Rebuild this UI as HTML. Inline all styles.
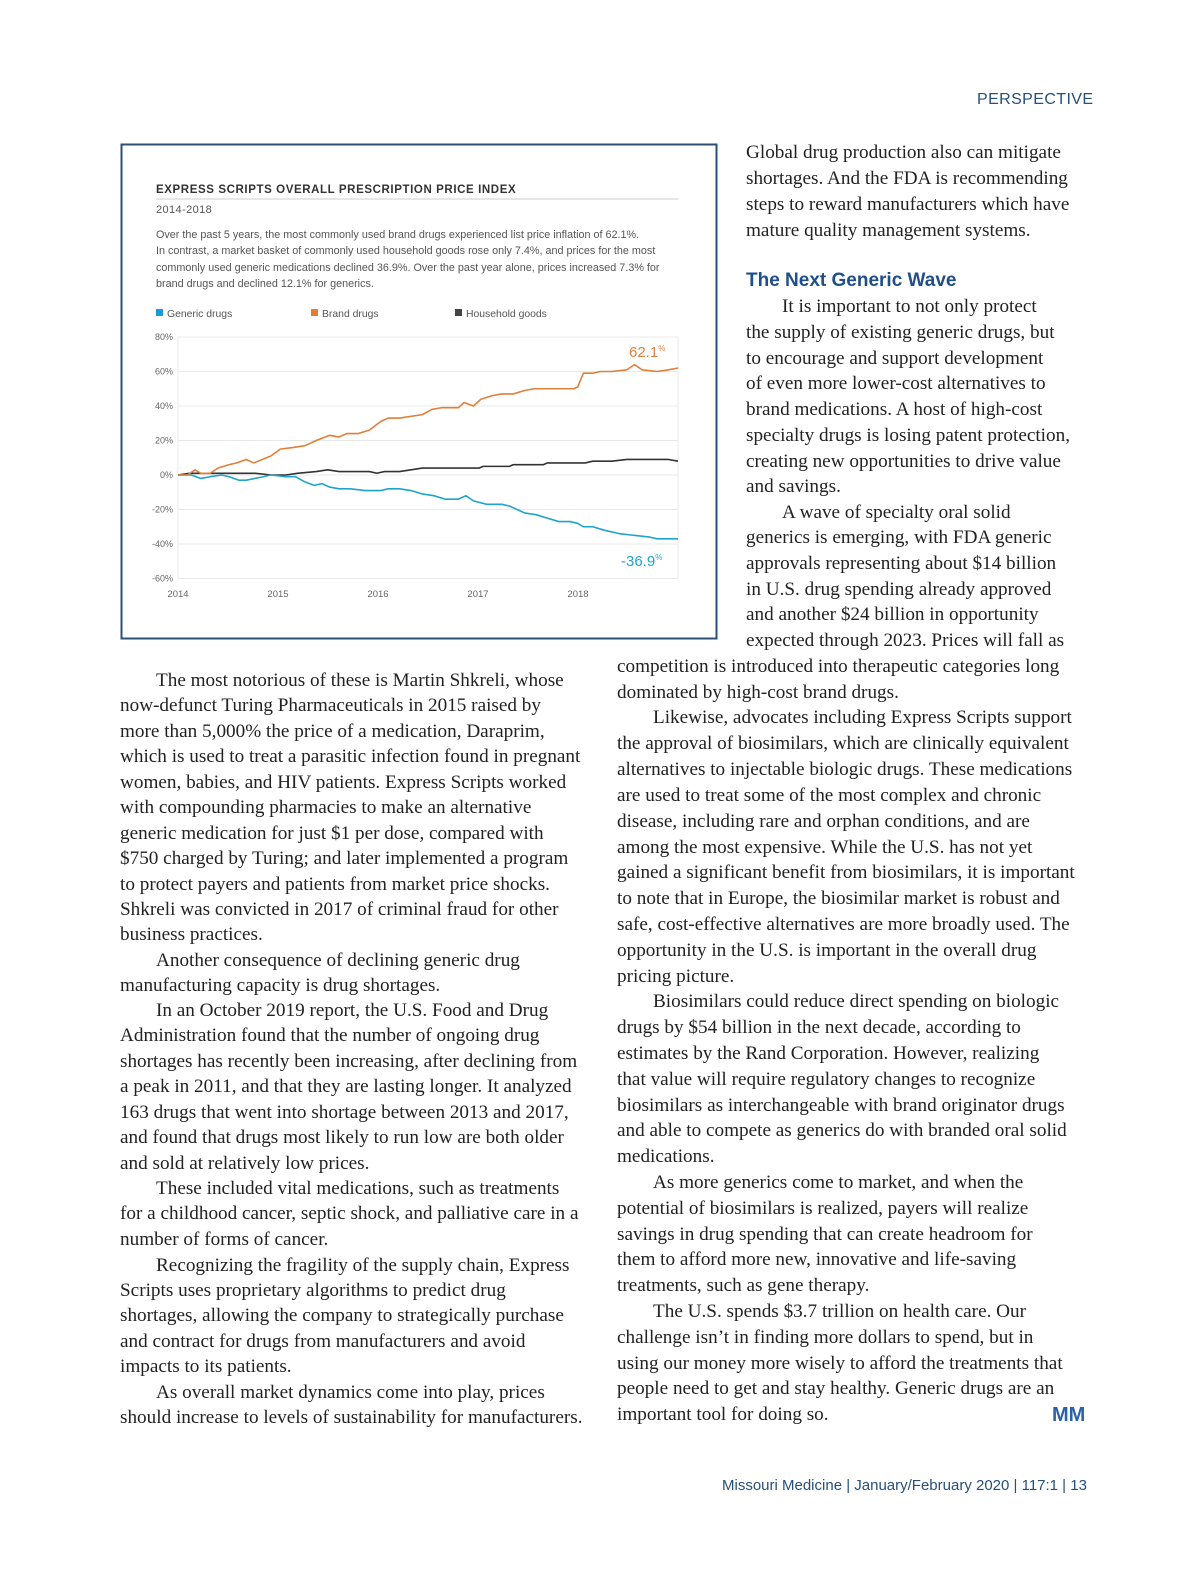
<!DOCTYPE html>
<html><head><meta charset="utf-8">
<style>
html,body{margin:0;padding:0;background:#fff;overflow:hidden;}
body{width:1200px;height:1582px;position:relative;}
.l{position:absolute;white-space:nowrap;font-family:"Liberation Serif",serif;font-size:19.2px;line-height:24px;color:#222;}
.s{font-family:"Liberation Sans",sans-serif;}
</style></head><body>
<div class="s" style="position:absolute;left:977px;top:91px;font-size:16px;letter-spacing:0.4px;color:#264f7c;">PERSPECTIVE</div>

<svg style="position:absolute;left:0;top:0" width="1200" height="660">
<rect x="121.5" y="144.5" width="595" height="494" fill="#fff" stroke="#2d4f74" stroke-width="2"/>
<text x="156" y="193" font-family="Liberation Sans,sans-serif" font-size="11.5" font-weight="bold" fill="#333" letter-spacing="0.6">EXPRESS SCRIPTS OVERALL PRESCRIPTION PRICE INDEX</text>
<line x1="156" y1="199" x2="678" y2="199" stroke="#ccc"/>
<text x="156" y="213" font-family="Liberation Sans,sans-serif" font-size="11" fill="#555" letter-spacing="0.4">2014-2018</text>
<g font-family="Liberation Sans,sans-serif" font-size="10.8" fill="#555">
<text x="156" y="238">Over the past 5 years, the most commonly used brand drugs experienced list price inflation of 62.1%.</text>
<text x="156" y="254">In contrast, a market basket of commonly used household goods rose only 7.4%, and prices for the most</text>
<text x="156" y="271">commonly used generic medications declined 36.9%. Over the past year alone, prices increased 7.3% for</text>
<text x="156" y="287">brand drugs and declined 12.1% for generics.</text>
</g>
<g font-family="Liberation Sans,sans-serif" font-size="10.4" fill="#555">
<rect x="156" y="309" width="7" height="7" fill="#1a9ad6"/><text x="167" y="317">Generic drugs</text>
<rect x="311" y="309" width="7" height="7" fill="#e07f3a"/><text x="322" y="317">Brand drugs</text>
<rect x="455" y="309" width="7" height="7" fill="#444"/><text x="466" y="317">Household goods</text>
</g>
<g stroke="#e8e8e8" stroke-width="1">
<line x1="178" y1="337" x2="678" y2="337"/><line x1="178" y1="371.5" x2="678" y2="371.5"/><line x1="178" y1="406" x2="678" y2="406"/><line x1="178" y1="440.5" x2="678" y2="440.5"/><line x1="178" y1="475" x2="678" y2="475"/><line x1="178" y1="509.5" x2="678" y2="509.5"/><line x1="178" y1="544" x2="678" y2="544"/><line x1="178" y1="578.5" x2="678" y2="578.5"/>
<line x1="178" y1="337" x2="178" y2="578"/><line x1="678" y1="337" x2="678" y2="578"/>
</g>
<g font-family="Liberation Sans,sans-serif" font-size="9" fill="#666" text-anchor="end">
<text x="173" y="340">80%</text><text x="173" y="374.5">60%</text><text x="173" y="409">40%</text><text x="173" y="443.5">20%</text><text x="173" y="478">0%</text><text x="173" y="512.5">-20%</text><text x="173" y="547">-40%</text><text x="173" y="581.5">-60%</text>
</g>
<g font-family="Liberation Sans,sans-serif" font-size="9.5" fill="#666" text-anchor="middle">
<text x="178" y="597">2014</text><text x="278" y="597">2015</text><text x="378" y="597">2016</text><text x="478" y="597">2017</text><text x="578" y="597">2018</text>
</g>
<g transform="translate(119.3,475) scale(0.3788,-1.725)" fill="none" stroke-width="1.6" stroke-linejoin="round">
<polyline vector-effect="non-scaling-stroke" stroke="#333" points="155,0 185,1 360,1 400,0 440,0 470,1 520,2 550,3 580,2 660,2 680,1 700,2 740,2 770,3 800,4 950,4 960,5 1030,5 1040,6 1120,6 1130,7 1230,7 1250,8 1300,8 1340,9 1450,9 1475,8"/>
<polyline vector-effect="non-scaling-stroke" stroke="#1fa3cc" points="155,0 190,0 215,-2 240,-1 270,0 290,-1 315,-3 335,-3 380,-1 400,0 440,-1 465,-1 490,-4 515,-6 535,-5 555,-7 580,-8 610,-8 650,-9 690,-9 710,-8 740,-8 770,-9 800,-11 830,-12 860,-14 895,-14 915,-12 935,-15 970,-17 1010,-17 1030,-18 1070,-22 1100,-23 1130,-25 1160,-27 1190,-27 1210,-28 1225,-30 1250,-30 1280,-32 1320,-34 1360,-35 1400,-36 1420,-37 1475,-37"/>
<polyline vector-effect="non-scaling-stroke" stroke="#e07f3a" points="155,0 180,0 200,3 215,1 240,1 260,4 290,6 310,7 335,9 355,7 400,11 425,15 460,16 490,17 520,20 555,23 580,22 600,24 630,24 660,26 690,31 710,33 740,33 800,35 825,38 850,39 895,39 910,42 935,40 955,44 985,46 1010,47 1040,47 1070,49 1095,50 1200,50 1210,51 1225,59 1250,59 1270,60 1300,60 1340,61 1360,64 1380,61 1420,60 1450,61 1475,62"/>
</g>
<text x="629" y="357" font-family="Liberation Sans,sans-serif" font-size="15" fill="#e07f3a">62.1<tspan font-size="8" dy="-6">%</tspan></text>
<text x="621" y="566" font-family="Liberation Sans,sans-serif" font-size="15" fill="#1fa3cc">-36.9<tspan font-size="8" dy="-6">%</tspan></text>
</svg>

<!-- upper right -->
<div class="l" style="left:746px;top:141px">Global drug production also can mitigate</div>
<div class="l" style="left:746px;top:167px">shortages. And the FDA is recommending</div>
<div class="l" style="left:746px;top:193px">steps to reward manufacturers which have</div>
<div class="l" style="left:746px;top:219px">mature quality management systems.</div>
<div class="l s" style="left:746px;top:269px;font-size:19px;font-weight:bold;color:#1f4e8a">The Next Generic Wave</div>
<div class="l" style="left:782px;top:295px">It is important to not only protect</div>
<div class="l" style="left:746px;top:321px">the supply of existing generic drugs, but</div>
<div class="l" style="left:746px;top:347px">to encourage and support development</div>
<div class="l" style="left:746px;top:372px">of even more lower-cost alternatives to</div>
<div class="l" style="left:746px;top:398px">brand medications. A host of high-cost</div>
<div class="l" style="left:746px;top:424px">specialty drugs is losing patent protection,</div>
<div class="l" style="left:746px;top:450px">creating new opportunities to drive value</div>
<div class="l" style="left:746px;top:475px">and savings.</div>
<div class="l" style="left:782px;top:501px">A wave of specialty oral solid</div>
<div class="l" style="left:746px;top:526px">generics is emerging, with FDA generic</div>
<div class="l" style="left:746px;top:552px">approvals representing about $14 billion</div>
<div class="l" style="left:746px;top:578px">in U.S. drug spending already approved</div>
<div class="l" style="left:746px;top:603px">and another $24 billion in opportunity</div>
<div class="l" style="left:746px;top:629px">expected through 2023. Prices will fall as</div>

<!-- left column -->
<div class="l" style="left:156px;top:669px">The most notorious of these is Martin Shkreli, whose</div>
<div class="l" style="left:120px;top:694px">now-defunct Turing Pharmaceuticals in 2015 raised by</div>
<div class="l" style="left:120px;top:720px">more than 5,000% the price of a medication, Daraprim,</div>
<div class="l" style="left:120px;top:745px">which is used to treat a parasitic infection found in pregnant</div>
<div class="l" style="left:120px;top:771px">women, babies, and HIV patients. Express Scripts worked</div>
<div class="l" style="left:120px;top:796px">with compounding pharmacies to make an alternative</div>
<div class="l" style="left:120px;top:822px">generic medication for just $1 per dose, compared with</div>
<div class="l" style="left:120px;top:847px">$750 charged by Turing; and later implemented a program</div>
<div class="l" style="left:120px;top:873px">to protect payers and patients from market price shocks.</div>
<div class="l" style="left:120px;top:898px">Shkreli was convicted in 2017 of criminal fraud for other</div>
<div class="l" style="left:120px;top:923px">business practices.</div>
<div class="l" style="left:156px;top:949px">Another consequence of declining generic drug</div>
<div class="l" style="left:120px;top:974px">manufacturing capacity is drug shortages.</div>
<div class="l" style="left:156px;top:999px">In an October 2019 report, the U.S. Food and Drug</div>
<div class="l" style="left:120px;top:1024px">Administration found that the number of ongoing drug</div>
<div class="l" style="left:120px;top:1050px">shortages has recently been increasing, after declining from</div>
<div class="l" style="left:120px;top:1075px">a peak in 2011, and that they are lasting longer. It analyzed</div>
<div class="l" style="left:120px;top:1101px">163 drugs that went into shortage between 2013 and 2017,</div>
<div class="l" style="left:120px;top:1126px">and found that drugs most likely to run low are both older</div>
<div class="l" style="left:120px;top:1152px">and sold at relatively low prices.</div>
<div class="l" style="left:156px;top:1177px">These included vital medications, such as treatments</div>
<div class="l" style="left:120px;top:1202px">for a childhood cancer, septic shock, and palliative care in a</div>
<div class="l" style="left:120px;top:1228px">number of forms of cancer.</div>
<div class="l" style="left:156px;top:1254px">Recognizing the fragility of the supply chain, Express</div>
<div class="l" style="left:120px;top:1279px">Scripts uses proprietary algorithms to predict drug</div>
<div class="l" style="left:120px;top:1304px">shortages, allowing the company to strategically purchase</div>
<div class="l" style="left:120px;top:1330px">and contract for drugs from manufacturers and avoid</div>
<div class="l" style="left:120px;top:1355px">impacts to its patients.</div>
<div class="l" style="left:156px;top:1381px">As overall market dynamics come into play, prices</div>
<div class="l" style="left:120px;top:1406px">should increase to levels of sustainability for manufacturers.</div>

<!-- right column -->
<div class="l" style="left:617px;top:655px">competition is introduced into therapeutic categories long</div>
<div class="l" style="left:617px;top:681px">dominated by high-cost brand drugs.</div>
<div class="l" style="left:653px;top:706px">Likewise, advocates including Express Scripts support</div>
<div class="l" style="left:617px;top:732px">the approval of biosimilars, which are clinically equivalent</div>
<div class="l" style="left:617px;top:758px">alternatives to injectable biologic drugs. These medications</div>
<div class="l" style="left:617px;top:784px">are used to treat some of the most complex and chronic</div>
<div class="l" style="left:617px;top:810px">disease, including rare and orphan conditions, and are</div>
<div class="l" style="left:617px;top:836px">among the most expensive. While the U.S. has not yet</div>
<div class="l" style="left:617px;top:861px">gained a significant benefit from biosimilars, it is important</div>
<div class="l" style="left:617px;top:887px">to note that in Europe, the biosimilar market is robust and</div>
<div class="l" style="left:617px;top:913px">safe, cost-effective alternatives are more broadly used. The</div>
<div class="l" style="left:617px;top:939px">opportunity in the U.S. is important in the overall drug</div>
<div class="l" style="left:617px;top:965px">pricing picture.</div>
<div class="l" style="left:653px;top:990px">Biosimilars could reduce direct spending on biologic</div>
<div class="l" style="left:617px;top:1016px">drugs by $54 billion in the next decade, according to</div>
<div class="l" style="left:617px;top:1042px">estimates by the Rand Corporation. However, realizing</div>
<div class="l" style="left:617px;top:1068px">that value will require regulatory changes to recognize</div>
<div class="l" style="left:617px;top:1094px">biosimilars as interchangeable with brand originator drugs</div>
<div class="l" style="left:617px;top:1119px">and able to compete as generics do with branded oral solid</div>
<div class="l" style="left:617px;top:1145px">medications.</div>
<div class="l" style="left:653px;top:1171px">As more generics come to market, and when the</div>
<div class="l" style="left:617px;top:1197px">potential of biosimilars is realized, payers will realize</div>
<div class="l" style="left:617px;top:1223px">savings in drug spending that can create headroom for</div>
<div class="l" style="left:617px;top:1248px">them to afford more new, innovative and life-saving</div>
<div class="l" style="left:617px;top:1274px">treatments, such as gene therapy.</div>
<div class="l" style="left:653px;top:1300px">The U.S. spends $3.7 trillion on health care. Our</div>
<div class="l" style="left:617px;top:1326px">challenge isn’t in finding more dollars to spend, but in</div>
<div class="l" style="left:617px;top:1352px">using our money more wisely to afford the treatments that</div>
<div class="l" style="left:617px;top:1377px">people need to get and stay healthy. Generic drugs are an</div>
<div class="l" style="left:617px;top:1403px">important tool for doing so.</div>
<div class="s" style="position:absolute;left:1052px;top:1404px;font-size:20px;font-weight:bold;color:#2a62a8">MM</div>

<div class="s" style="position:absolute;left:722px;top:1477px;font-size:15px;color:#264f7c;white-space:nowrap">Missouri Medicine | January/February 2020 | 117:1 | 13</div>
</body></html>
